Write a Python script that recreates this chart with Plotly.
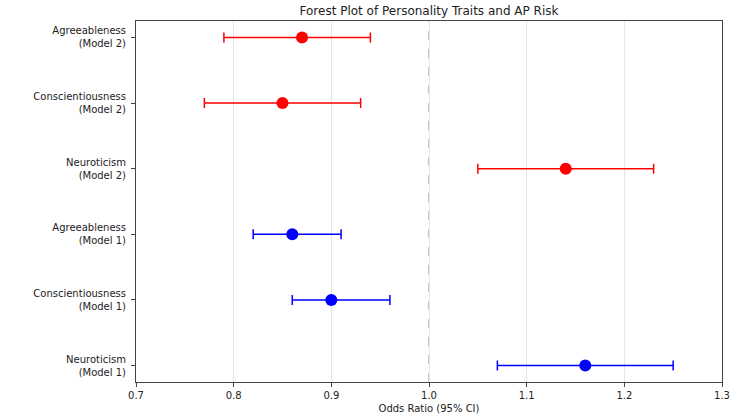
import plotly.graph_objects as go

labels = ["Neuroticism<br>(Model 1)", "Conscientiousness<br>(Model 1)", "Agreeableness<br>(Model 1)",
          "Neuroticism<br>(Model 2)", "Conscientiousness<br>(Model 2)", "Agreeableness<br>(Model 2)"]
odds = [1.16, 0.90, 0.86, 1.14, 0.85, 0.87]
lower = [1.07, 0.86, 0.82, 1.05, 0.77, 0.79]
upper = [1.25, 0.96, 0.91, 1.23, 0.93, 0.94]
colors = ["blue", "blue", "blue", "red", "red", "red"]
xticks = [0.7, 0.8, 0.9, 1.0, 1.1, 1.2, 1.3]

font = "DejaVu Sans, Arial, sans-serif"
fig = go.Figure()
for i in range(len(labels)):
    fig.add_trace(go.Scatter(
        x=[odds[i]], y=[i], mode="markers",
        marker=dict(color=colors[i], size=12),
        error_x=dict(type="data", symmetric=False,
                     array=[upper[i] - odds[i]], arrayminus=[odds[i] - lower[i]],
                     color=colors[i], thickness=1.5, width=5),
        showlegend=False))

fig.add_shape(type="line", x0=1.0, x1=1.0, y0=0, y1=1, yref="paper",
              line=dict(color="#aaaaaa", width=1.3, dash="dash"), layer="below")

fig.update_layout(
    width=750, height=416,
    margin=dict(l=136, r=28, t=21, b=34),
    plot_bgcolor="white", paper_bgcolor="white",
    font=dict(family=font, size=10, color="#222"),
    title=dict(text="Forest Plot of Personality Traits and AP Risk", x=(136 + 722) / 2 / 750,
               xanchor="center", y=0.973, yanchor="middle", font=dict(size=12, color="#222")),
    xaxis=dict(range=[0.7, 1.3], tickvals=xticks, ticktext=[f"{v:.1f}" for v in xticks],
               showgrid=True, gridcolor="#e6e6e6", gridwidth=1, zeroline=False,
               showline=True, linecolor="#444", linewidth=1, mirror=True,
               ticks="outside", ticklen=4, tickcolor="#444", ticklabelstandoff=0,
               automargin=False,
               title=dict(text="Odds Ratio (95% CI)", standoff=4, font=dict(size=10))),
    yaxis=dict(range=[-0.25, 5.25], tickvals=list(range(len(labels))), ticktext=labels,
               showgrid=False, zeroline=False, automargin=False,
               showline=True, linecolor="#444", linewidth=1, mirror=True,
               ticks="outside", ticklen=4, tickcolor="#444", ticklabelstandoff=3),
)
fig.write_html("out.html")
